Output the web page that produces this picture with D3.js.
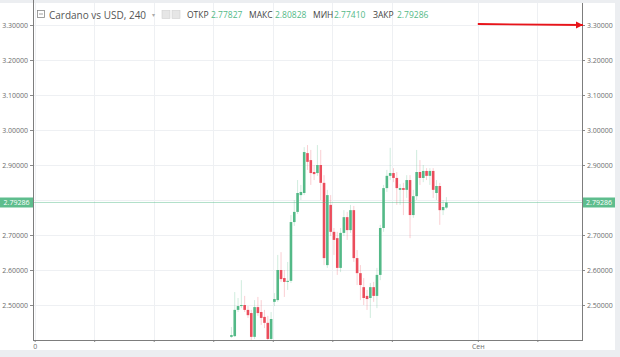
<!DOCTYPE html>
<html><head><meta charset="utf-8">
<script src="https://cdn.jsdelivr.net/npm/d3@7"></script>
<style>
html,body{margin:0;padding:0;background:#eceef1;}
svg{display:block;font-family:"Open Sans","DejaVu Sans",sans-serif;}
</style></head>
<body><svg id="c" width="620" height="357"></svg>
<script>
// ---- data ----
const barIndex = [60,61,62,63,64,65,66,67,68,69,70,71,72,73,74,75,76,77,78,79,80,81,82,83,84,85,86,87,88,89,90,91,92,93,94,95,96,97,98,99,100,101,102,103,104,105,106,107,108,109,110,111,112,113,114,115,116,117,118,119,120,121,122,123,124,125];
const openV  = [2.409,2.411,2.486,2.497,2.500,2.486,2.477,2.409,2.494,2.480,2.466,2.449,2.403,2.509,2.514,2.600,2.577,2.566,2.569,2.737,2.766,2.814,2.820,2.934,2.914,2.880,2.877,2.900,2.849,2.614,2.786,2.709,2.691,2.606,2.706,2.751,2.714,2.771,2.634,2.591,2.551,2.526,2.520,2.551,2.526,2.586,2.720,2.834,2.869,2.877,2.863,2.829,2.834,2.829,2.857,2.757,2.811,2.880,2.863,2.883,2.869,2.883,2.820,2.840,2.771,2.77827];
const highV  = [2.437,2.537,2.520,2.571,2.526,2.497,2.486,2.514,2.523,2.514,2.486,2.469,2.480,2.534,2.643,2.651,2.600,2.623,2.757,2.800,2.857,2.843,2.951,2.957,2.943,2.900,2.957,2.943,2.871,2.829,2.814,2.720,2.709,2.720,2.771,2.766,2.786,2.783,2.657,2.614,2.577,2.543,2.563,2.566,2.606,2.729,2.843,2.886,2.949,2.891,2.880,2.846,2.849,2.871,2.871,2.829,2.943,2.914,2.900,2.891,2.891,2.891,2.857,2.849,2.800,2.80828];
const lowV   = [2.406,2.409,2.480,2.491,2.480,2.463,2.400,2.403,2.469,2.443,2.434,2.400,2.400,2.497,2.509,2.566,2.523,2.543,2.563,2.726,2.760,2.800,2.814,2.886,2.843,2.857,2.869,2.800,2.614,2.606,2.697,2.643,2.586,2.594,2.697,2.686,2.706,2.623,2.557,2.514,2.500,2.486,2.463,2.509,2.491,2.571,2.709,2.823,2.857,2.851,2.786,2.786,2.757,2.806,2.691,2.749,2.800,2.843,2.851,2.857,2.843,2.806,2.800,2.729,2.757,2.77410];
const closeV = [2.414,2.486,2.497,2.500,2.486,2.471,2.409,2.494,2.477,2.463,2.449,2.403,2.460,2.517,2.600,2.574,2.566,2.569,2.737,2.766,2.820,2.823,2.937,2.909,2.877,2.874,2.900,2.849,2.634,2.814,2.709,2.686,2.606,2.706,2.751,2.714,2.771,2.634,2.591,2.557,2.520,2.517,2.551,2.526,2.586,2.720,2.834,2.869,2.877,2.863,2.834,2.834,2.829,2.857,2.757,2.811,2.880,2.863,2.883,2.869,2.883,2.829,2.840,2.771,2.780,2.79286];
const yTickValues = [2.5,2.6,2.7,2.8,2.9,3.0,3.1,3.2,3.3];
const yTickLabels = ["2.50000","2.60000","2.70000","","2.90000","3.00000","3.10000","3.20000","3.30000"];
const xTickPositions = [0.5,18.5,36.5,54.5,72.5,90.5,108.5,134.5,152.5];
const xTickLabels = ["0","","","","","","","Сен",""];
const legendTitle = "Cardano vs USD, 240";
const legendLabels = ["ОТКР","МАКС","МИН","ЗАКР"];
const legendValues = ["2.77827","2.80828","2.77410","2.79286"];
const lastPrice = 2.79286;

// ---- layout ----
const svg = d3.select("#c");
const L = 33, R = 582, T = 3, B = 340;
const x = d3.scaleLinear().domain([0,166]).range([L,R]);
const y = d3.scaleLinear().domain([2.4,3.3]).range([B,25]);
const UP = "#53b987", DN = "#eb4d5c";

svg.append("rect").attr("x",0).attr("y",T).attr("width",615).attr("height",350-T).attr("fill","#fff");

// grid
const grid = svg.append("g");
grid.selectAll("line.h").data(yTickValues).join("line")
  .attr("x1",L).attr("x2",R).attr("y1",d=>Math.round(y(d))+0.5).attr("y2",d=>Math.round(y(d))+0.5)
  .attr("stroke","#eef0f3");
grid.selectAll("line.v").data(xTickPositions).join("line")
  .attr("y1",T).attr("y2",B).attr("x1",d=>Math.round(x(d))+0.5).attr("x2",d=>Math.round(x(d))+0.5)
  .attr("stroke","#eef0f3");

// candles
const cd = barIndex.map((b,i)=>({b,o:openV[i],h:highV[i],l:lowV[i],c:closeV[i]}));
svg.append("clipPath").attr("id","pc").append("rect").attr("x",L).attr("y",T).attr("width",R-L).attr("height",B-T);
const cg = svg.append("g").attr("clip-path","url(#pc)");
cg.selectAll("line.w").data(cd).join("line")
  .attr("x1",d=>x(d.b)).attr("x2",d=>x(d.b)).attr("y1",d=>y(d.h)).attr("y2",d=>y(d.l))
  .attr("stroke",d=>d.c>=d.o?UP:DN).attr("stroke-opacity",0.35).attr("stroke-width",0.8);
cg.selectAll("rect.b").data(cd).join("rect")
  .attr("x",d=>x(d.b)-1.3).attr("width",2.6)
  .attr("y",d=>y(Math.max(d.o,d.c)))
  .attr("height",d=>Math.max(1,Math.abs(y(d.o)-y(d.c))))
  .attr("fill",d=>d.c>=d.o?UP:DN);

// price line
svg.append("line").attr("x1",L).attr("x2",R).attr("y1",y(lastPrice)).attr("y2",y(lastPrice))
  .attr("stroke",UP).attr("stroke-opacity",0.45).attr("stroke-width",1);

// axes
const yl = d3.axisLeft(y).tickValues(yTickValues).tickFormat((d,i)=>yTickLabels[i]).tickSize(3).tickPadding(2);
const yr = d3.axisRight(y).tickValues(yTickValues).tickFormat((d,i)=>yTickLabels[i]).tickSize(3).tickPadding(2);
const xb = d3.axisBottom(x).tickValues(xTickPositions).tickFormat((d,i)=>xTickLabels[i]).tickSize(2).tickPadding(2);
function styleAxis(g){
  g.select(".domain").remove();
  g.selectAll("line").attr("stroke","#8a8a8a");
  g.selectAll("text").attr("fill","#6d6d6d").attr("font-size","7px").attr("font-family","\"Open Sans\",sans-serif");
}
svg.append("g").attr("transform",`translate(${L},0)`).call(yl).call(styleAxis);
svg.append("g").attr("transform",`translate(${R},0)`).call(yr).call(styleAxis);
svg.append("g").attr("transform",`translate(0,${B})`).call(xb).call(styleAxis);
// axis border lines
svg.append("line").attr("x1",L+0.5).attr("x2",L+0.5).attr("y1",0).attr("y2",B).attr("stroke","#7d7d7d");
svg.append("line").attr("x1",R+0.5).attr("x2",R+0.5).attr("y1",T).attr("y2",B).attr("stroke","#7d7d7d");
svg.append("line").attr("x1",L).attr("x2",R+1).attr("y1",B+0.5).attr("y2",B+0.5).attr("stroke","#7d7d7d");

// price labels
[[0,L],[R+1,615]].forEach(([a,b])=>{
  svg.append("rect").attr("x",a).attr("width",b-a).attr("y",y(lastPrice)-5).attr("height",10).attr("fill","#5ebd8d");
  svg.append("text").attr("x",(a+b)/2).attr("y",y(lastPrice)+2.5).attr("text-anchor","middle")
    .attr("fill","#fff").attr("font-size","7px").text(d3.format(".5f")(lastPrice));
});

// legend
const lg = svg.append("g");
lg.append("rect").attr("x",37.5).attr("y",10.5).attr("width",7).attr("height",7).attr("fill","none").attr("stroke","#888").attr("stroke-width",0.8);
lg.append("line").attr("x1",39).attr("x2",43).attr("y1",14).attr("y2",14).attr("stroke","#888").attr("stroke-width",0.8);
lg.append("text").attr("x",49).attr("y",18.5).attr("font-size","10px").attr("fill","#555").text(legendTitle);
lg.append("text").attr("x",152).attr("y",17).attr("font-size","6px").attr("fill","#aaa").text("▾");
[162,172].forEach(px=>{
  lg.append("rect").attr("x",px).attr("y",10.5).attr("width",8).attr("height",8).attr("fill","#e6e6e6").attr("stroke","#cfcfcf").attr("stroke-width",0.6);
});
const lx = [187,249,313,373], vx = [211,275,334,397];
legendLabels.forEach((t,i)=>{
  lg.append("text").attr("x",lx[i]).attr("y",18).attr("font-size","8.5px").attr("fill","#444").text(t);
  lg.append("text").attr("x",vx[i]).attr("y",18).attr("font-size","8.5px").attr("fill","#53b987").text(legendValues[i]);
});

// annotation arrow
const defs = svg.append("defs");
defs.append("marker").attr("id","ah").attr("viewBox","0 0 10 10").attr("refX",10).attr("refY",5)
  .attr("markerWidth",4).attr("markerHeight",4).attr("orient","auto")
  .append("path").attr("d","M0,0L10,5L0,10z").attr("fill","#e8141a");
svg.append("line").attr("x1",x(134.5)).attr("y1",y(3.3)-1).attr("x2",x(166)+1).attr("y2",y(3.3))
  .attr("stroke","#e8141a").attr("stroke-width",1.8).attr("marker-end","url(#ah)");
</script></body></html>
